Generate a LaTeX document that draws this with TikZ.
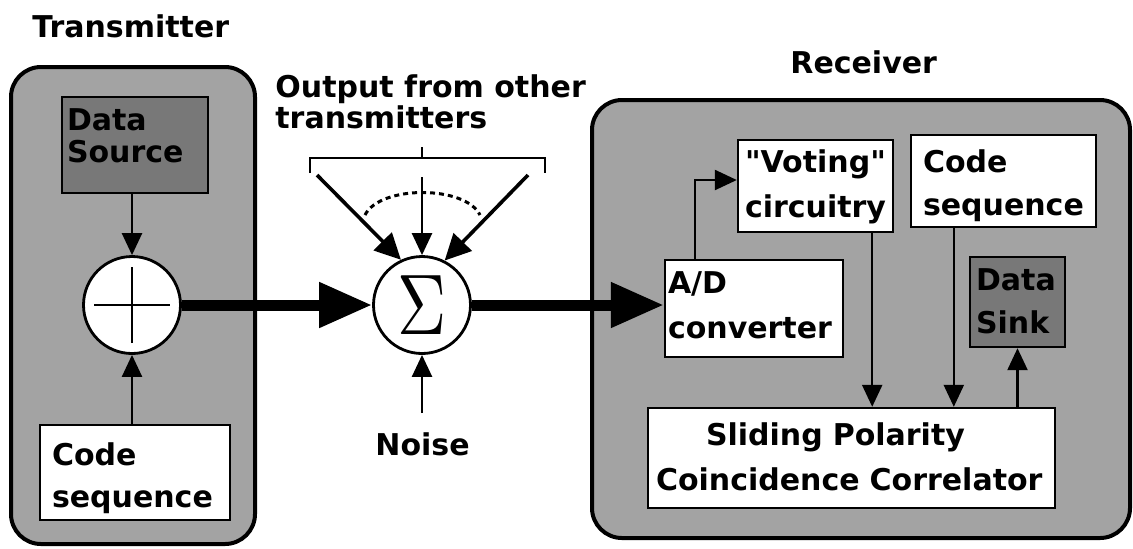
\documentclass[tikz,border=0pt]{standalone}
\usepackage[no-math]{fontspec}
\usepackage{graphicx}
\setmainfont{DejaVu Sans}[Ligatures=TeXOff]
\usetikzlibrary{arrows.meta}
\definecolor{bg}{gray}{0.64}
\definecolor{dk}{gray}{0.47}
\tikzset{
  outer/.style={draw, line width=2pt, rounded corners=15pt, fill=bg, inner sep=0pt},
  box/.style={draw, line width=1.2pt, fill=white, inner ysep=0pt, align=left},
  dbox/.style={box, fill=dk},
  circ/.style={draw, circle, line width=1.4pt, fill=white, minimum size=48.5pt, inner sep=0pt},
  arr/.style={line width=1.2pt, -{Triangle[width=10pt,length=11pt]}},
  slant/.style={line width=1.8pt, -{Triangle[width=12.5pt,length=13pt]}},
  bigarr/.style={line width=5.5pt, -{Triangle[width=21.5pt,length=26.5pt]}},
  lbl/.style={anchor=base west, inner sep=0pt},
}
\begin{document}
\begin{tikzpicture}[x=0.5pt, y=-0.5pt, font=\bfseries\fontsize{15}{21}\selectfont]
\useasboundingbox (0,0) rectangle (1133,548);

% titles
\node[lbl] (ttx) at (32,37) {Transmitter};
\node[lbl] (tout1) at (275,97) {Output from other};
\node[lbl] (tout2) at (275,128) {transmitters};
\node[lbl] (trx) at (790,73) {Receiver};

% outer containers
\node[outer, minimum width=122pt, minimum height=238.5pt] (tx) at (133,305.5) {};
\node[outer, minimum width=269pt, minimum height=219pt] (rx) at (861,319) {};

% transmitter
\node[dbox, minimum width=73pt, minimum height=48pt, inner xsep=2.5pt, text width=68pt,
      text height=16.5pt, text depth=31.5pt,
      font=\bfseries\fontsize{15}{16}\selectfont] (src) at (135,145) {Data\\Source};
\node[circ] (plus) at (132,305) {};
\draw[line width=1.2pt] ([xshift=-19pt]plus.center) -- ([xshift=19pt]plus.center);
\draw[line width=1.2pt] ([yshift=-19pt]plus.center) -- ([yshift=19pt]plus.center);
\node[box, minimum width=95pt, minimum height=47.5pt, inner xsep=6pt, text width=83pt,
      text height=20pt, text depth=27.5pt] (codet) at (135,472.5) {Code\\sequence};
\draw[arr] (plus.north |- src.south) -- (plus.north);
\draw[arr] (plus.south |- codet.north) -- (plus.south);

% summer
\node[circ] (sig) at (422,305) {\scalebox{3.4}[4.3]{\fontsize{10}{12}\selectfont$\Sigma$}};
\draw[line width=1.2pt] (310,173) -- (310,158) -- (545,158) -- (545,173);
\draw[line width=1.2pt] (422,158) -- (422,147);
\draw[line width=1.5pt, dash pattern=on 2.5pt off 2pt] (365,215) .. controls (380,185) and (465,185) .. (480,215);
\coordinate (b1) at (317,175);
\coordinate (b2) at (422,177);
\coordinate (b3) at (528,175);
\draw[slant] (b1) -- (sig.115);
\draw[arr] (b2) -- (sig.north);
\draw[slant] (b3) -- (sig.63);
\node[lbl] (noise) at (375,455) {Noise};
\coordinate (n0) at (422,413);
\draw[arr] (n0) -- (sig.south);

% receiver
\node[box, minimum width=77.5pt, minimum height=46pt, inner xsep=3.5pt, text width=70.5pt,
      text height=16pt, text depth=30pt,
      font=\bfseries\fontsize{15}{22.5}\selectfont] (vote) at (815.5,186) {"Voting"\\circuitry};
\node[box, minimum width=92.5pt, minimum height=46pt, inner xsep=6pt, text width=80.5pt,
      text height=18.5pt, text depth=27.5pt,
      font=\bfseries\fontsize{15}{21.5}\selectfont] (coder) at (1003.5,181) {Code\\sequence};
\node[box, minimum width=89pt, minimum height=48.5pt, inner xsep=1.5pt, text width=86pt,
      text height=16.5pt, text depth=32pt,
      font=\bfseries\fontsize{15}{22.5}\selectfont] (ad) at (754,308.5) {A/D\\converter};
\node[dbox, minimum width=47.5pt, minimum height=45pt, inner xsep=3pt, text width=41.5pt,
      text height=16.5pt, text depth=28.5pt,
      font=\bfseries\fontsize{15}{21.5}\selectfont] (sink) at (1017.5,302) {Data\\Sink};
\node[box, minimum width=203.5pt, minimum height=50pt, inner xsep=4pt, text width=195.5pt,
      text height=18.5pt, text depth=31.5pt,
      font=\bfseries\fontsize{15}{22.5}\selectfont] (corr) at (851.5,458) {\hspace*{25pt}Sliding Polarity\\Coincidence Correlator};

\draw[arr] ([xshift=15.5pt]ad.north west) |- ([yshift=3pt]vote.west);
\draw[arr] ([xshift=-11pt]vote.south east) -- ([xshift=-11pt]vote.south east |- corr.north);
\draw[arr] ([xshift=22pt]coder.south west) -- ([xshift=22pt]coder.south west |- corr.north);
\draw[arr] (sink.south |- corr.north) -- (sink.south);

% thick signal path
\draw[bigarr] (plus.east) -- (sig.west);
\draw[bigarr] (sig.east) -- (sig.east -| ad.west);
\end{tikzpicture}
\end{document}
